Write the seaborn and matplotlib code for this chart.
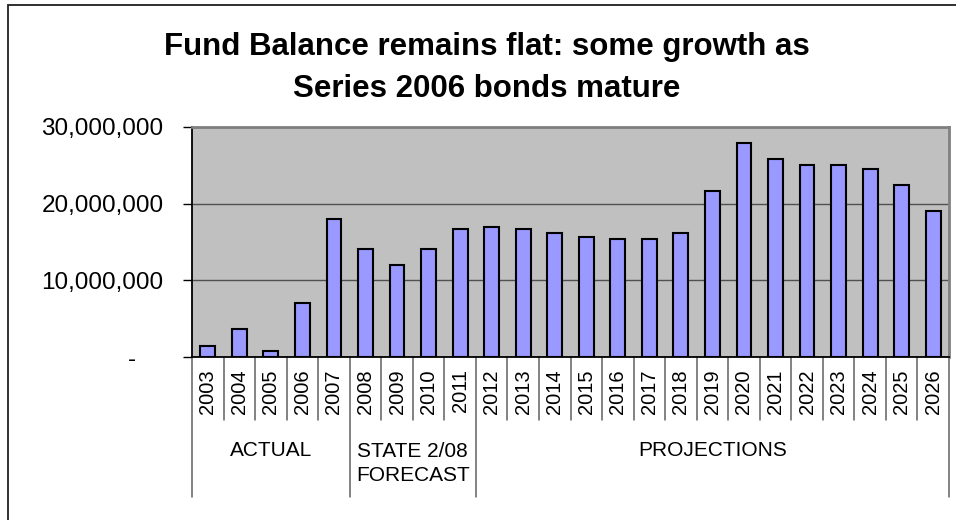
import numpy as np
import pandas as pd
import matplotlib
matplotlib.use("Agg")
import matplotlib.pyplot as plt
import matplotlib.transforms as mtransforms
from matplotlib.lines import Line2D
from matplotlib.patches import Rectangle
from matplotlib.ticker import FuncFormatter
import seaborn as sns

# values
years = [str(y) for y in range(2003, 2027)]
balance = [1.5e6, 3.6e6, 0.8e6, 7.0e6, 18.0e6,
           14.1e6, 12.0e6, 14.1e6, 16.7e6,
           16.95e6, 16.7e6, 16.15e6, 15.65e6, 15.4e6, 15.4e6, 16.15e6,
           21.65e6, 27.9e6, 25.8e6, 25.0e6, 25.0e6, 24.5e6, 22.4e6, 19.0e6]
group_names = ["ACTUAL", "STATE 2/08\nFORECAST", "PROJECTIONS"]
group_sizes = [5, 4, 15]
y_ticks = [0, 10e6, 20e6, 30e6]
title_lines = ["Fund Balance remains flat: some growth as",
               "Series 2006 bonds mature"]

sns.set_style("white")
plt.rcParams['font.family'] = ['Liberation Sans', 'DejaVu Sans']
plt.rcParams['text.color'] = 'black'
plt.rcParams['xtick.labelcolor'] = 'black'
plt.rcParams['ytick.labelcolor'] = 'black'

df = pd.DataFrame({"Year": years, "Balance": balance})

W, H = 956, 520
fig = plt.figure(figsize=(W / 100, H / 100), dpi=100)
ax = fig.add_axes([192 / W, 1 - 357 / H, (949 - 192) / W, (357 - 127) / H])
ax.set_facecolor("#C0C0C0")

# outer chart frame (runs past the right and bottom edges in the reference)
fig.add_artist(Rectangle((8 / W, -0.2), 1.2, 0.2 + (H - 5) / H,
                         transform=fig.transFigure, fill=False,
                         edgecolor="#202020", linewidth=1.3))

ax.yaxis.grid(True, color="#505050", linewidth=1.0)
ax.set_axisbelow(True)

sns.barplot(data=df, x="Year", y="Balance", color="#9999FF", saturation=1,
            edgecolor="black", linewidth=1.5, width=0.47, ax=ax)

ax.set_ylim(0, 30e6)
ax.set_xlim(-0.5, len(years) - 0.5)
ax.set_yticks(y_ticks)
ax.yaxis.set_major_formatter(FuncFormatter(
    lambda v, p: "-    " if v == 0 else "{:,.0f}".format(v)))
ax.tick_params(axis="y", length=6.5, width=1, pad=14, labelsize=17.5,
               color="black", direction="out", left=True)
ax.tick_params(axis="x", length=0, pad=9, labelsize=14.5, labelrotation=90)
ax.set_xlabel("")
ax.set_ylabel("")

for s in ["left", "bottom"]:
    ax.spines[s].set_color("black")
    ax.spines[s].set_linewidth(1.3)
for s in ["top", "right"]:
    ax.spines[s].set_color("#808080")
    ax.spines[s].set_linewidth(2)

# category separators below the axis and group labels
trans = mtransforms.blended_transform_factory(ax.transData, ax.transAxes)
axh = 357 - 127
short_y = -(420 - 357) / axh
long_y = -(497 - 357) / axh
bounds = np.cumsum([0] + group_sizes) - 0.5
for i in range(len(years) + 1):
    xb = i - 0.5
    yb = long_y if xb in bounds else short_y
    ax.add_line(Line2D([xb, xb], [0, yb], transform=trans, color="#606060",
                       linewidth=1.1, clip_on=False))

for k, name in enumerate(group_names):
    xc = (bounds[k] + bounds[k + 1]) / 2
    yc = 463.5 if "\n" in name else 450
    ax.text(xc, -(yc - 357) / axh, name, transform=trans, ha="center",
            va="center", fontsize=15, linespacing=1.3)

fig.text(487 / W, 1 - 55 / H, title_lines[0], ha="center", va="baseline",
         fontsize=22.5, fontweight="bold")
fig.text(487 / W, 1 - 97 / H, title_lines[1], ha="center", va="baseline",
         fontsize=22.5, fontweight="bold")

fig.savefig("out.png", dpi=100)
